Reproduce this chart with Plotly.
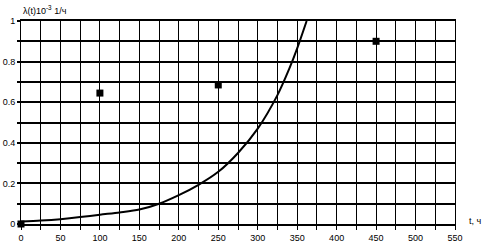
import plotly.graph_objects as go

# Curve: lambda(t), 10^-3 1/h
curve_t = [0, 25, 50, 75, 100, 125, 150, 175, 200, 225, 250, 275, 300, 325, 340, 350, 362]
curve_y = [0.012, 0.017, 0.024, 0.034, 0.046, 0.057, 0.071, 0.100, 0.142, 0.193, 0.257, 0.35, 0.47, 0.635, 0.765, 0.865, 1.0]

# Experimental points
pts_t = [0, 100, 250, 450]
pts_y = [0.0, 0.645, 0.685, 0.9]

x_ticks = [0, 50, 100, 150, 200, 250, 300, 350, 400, 450, 500, 550]
y_ticks = [0, 0.2, 0.4, 0.6, 0.8, 1]

fig = go.Figure()
fig.add_trace(go.Scatter(x=curve_t, y=curve_y, mode="lines",
                         line=dict(color="black", width=2, shape="spline", smoothing=0.8),
                         showlegend=False, hoverinfo="skip"))
fig.add_trace(go.Scatter(x=pts_t, y=pts_y, mode="markers",
                         marker=dict(symbol="square", size=7, color="black"),
                         cliponaxis=False, showlegend=False))

font = dict(family="Liberation Sans, Arial, sans-serif", size=9, color="black")

fig.update_layout(
    width=484, height=243,
    margin=dict(l=21, r=29, t=21, b=19, autoexpand=False),
    paper_bgcolor="white", plot_bgcolor="white",
    font=font,
    xaxis=dict(range=[0, 550], tickvals=x_ticks, ticktext=[str(v) for v in x_ticks],
               automargin=False,
               showgrid=True, gridcolor="black", gridwidth=1,
               minor=dict(dtick=25, tick0=0, showgrid=True, gridcolor="black", gridwidth=1,
                          ticks="outside", ticklen=4, tickcolor="black"),
               ticks="outside", ticklen=4, tickcolor="black", tickwidth=1,
               showline=True, linecolor="black", linewidth=2, mirror=True,
               zeroline=False, tickfont=font, fixedrange=True),
    yaxis=dict(range=[0, 1], tickvals=y_ticks, ticktext=["0", "0.2", "0.4", "0.6", "0.8", "1"],
               automargin=False,
               showgrid=True, gridcolor="black", gridwidth=2,
               minor=dict(dtick=0.1, tick0=0, showgrid=True, gridcolor="black", gridwidth=2,
                          ticks="outside", ticklen=3, tickcolor="black", tickwidth=2),
               ticks="outside", ticklen=3, tickcolor="black", tickwidth=2,
               showline=True, linecolor="black", linewidth=1, mirror=True,
               zeroline=False, tickfont=font, fixedrange=True),
    annotations=[
        dict(text="λ(t)10<sup>-3</sup> 1/ч", xref="paper", yref="paper", x=0, y=1,
             xanchor="left", yanchor="bottom", yshift=3, showarrow=False,
             font=dict(family="Liberation Sans, Arial, sans-serif", size=9, color="black")),
        dict(text="t, ч", xref="paper", yref="paper", x=1, y=0,
             xanchor="left", yanchor="middle", xshift=12, yshift=3, showarrow=False,
             font=dict(family="Liberation Sans, Arial, sans-serif", size=9, color="black")),
    ],
)

fig.write_html("out.html", config={"displayModeBar": False},
               post_script="document.body.style.margin='0';")
